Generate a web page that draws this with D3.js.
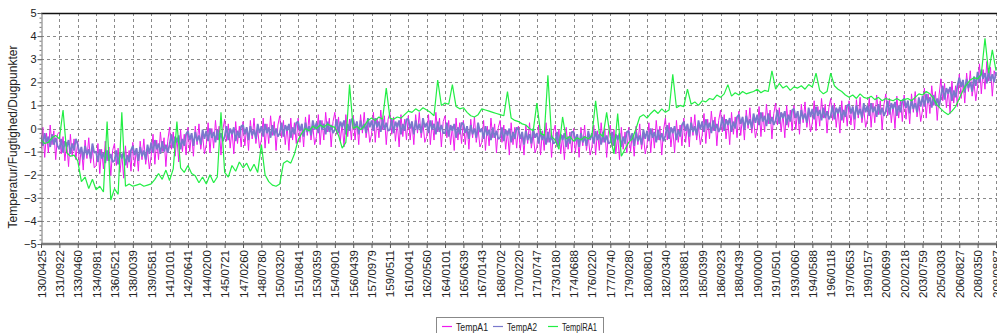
<!DOCTYPE html>
<html>
<head>
<meta charset="utf-8">
<script src="https://cdn.jsdelivr.net/npm/d3@7"></script>
<style>
  body { margin: 0; background: #fff; overflow: hidden; }
  svg text { font-family: Arial, "Liberation Sans", sans-serif; fill: #222; }
</style>
</head>
<body>
<svg id="chart" width="997" height="333"></svg>
<script>
// tick labels on the x axis (day/sample)
var tickLabels = ["130/0425","131/0922","133/0460","134/0981","136/0521","138/0039","139/0581","141/0101",
  "142/0641","144/0200","145/0721","147/0260","148/0780","150/0320","151/0841","153/0359","154/0901",
  "156/0439","157/0979","159/0511","161/0041","162/0560","164/0101","165/0639","167/0143","168/0702",
  "170/0220","171/0747","173/0180","174/0688","176/0220","177/0740","179/0280","180/0801","182/0340",
  "183/0881","185/0399","186/0923","188/0439","190/0000","191/0501","193/0060","194/0588","196/0118",
  "197/0653","199/0157","200/0699","202/0218","203/0759","205/0303","206/0827","208/0350","209/0887"];

var seriesNames = ["TempA1", "TempA2", "TemplRA1"];
var seriesColors = ["#ee1aee", "#7a78cc", "#22ee44"];
var seriesWidths = [1.0, 1.8, 1.2];
var samplesPerTick = [10, 10, 5];

// TempA1: 10 samples per tick interval
var tempA1 = [
  -0.9,0.05,-1.25,-0.2,-1.05,0.15,-0.7,-0.1,-1.35,-0.25,
  -0.15,-1.1,-0.35,-1.4,-0.6,-1.65,-0.25,-1.2,-0.45,-1.35,
  -0.55,-1.6,-0.8,-1.8,-0.5,-1.3,-0.4,-1.5,-0.9,-1.7,
  -1.6,-0.65,-1.95,-0.9,-1.75,-0.55,-1.4,-0.8,-2.05,-0.95,
  -0.65,-1.6,-0.85,-1.9,-1.1,-2.15,-0.75,-1.7,-0.95,-1.85,
  -0.6,-1.65,-0.85,-1.85,-0.55,-1.35,-0.45,-1.55,-0.95,-1.75,
  -1.2,-0.25,-1.55,-0.5,-1.35,-0.15,-1.0,-0.4,-1.65,-0.55,
  0.05,-0.9,-0.15,-1.2,-0.4,-1.45,-0.05,-1.0,-0.25,-1.15,
  0.05,-1.0,-0.2,-1.2,0.1,-0.7,0.2,-0.9,-0.3,-1.1,
  -0.7,0.25,-1.05,0.0,-0.85,0.35,-0.5,0.1,-1.15,-0.05,
  0.4,-0.55,0.2,-0.85,-0.05,-1.1,0.3,-0.65,0.1,-0.8,
  0.3,-0.75,0.05,-0.95,0.35,-0.45,0.45,-0.65,-0.05,-0.85,
  -0.5,0.45,-0.85,0.2,-0.65,0.55,-0.3,0.3,-0.95,0.15,
  0.55,-0.4,0.35,-0.7,0.1,-0.95,0.45,-0.5,0.25,-0.65,
  0.45,-0.6,0.2,-0.8,0.5,-0.3,0.6,-0.5,0.1,-0.7,
  -0.35,0.6,-0.7,0.35,-0.5,0.7,-0.15,0.45,-0.8,0.3,
  0.7,-0.25,0.5,-0.55,0.25,-0.8,0.6,-0.35,0.4,-0.5,
  0.55,-0.5,0.3,-0.7,0.6,-0.2,0.7,-0.4,0.2,-0.6,
  -0.25,0.7,-0.6,0.45,-0.4,0.8,-0.05,0.55,-0.7,0.4,
  0.7,-0.25,0.5,-0.55,0.25,-0.8,0.6,-0.35,0.4,-0.5,
  0.55,-0.5,0.3,-0.7,0.6,-0.2,0.7,-0.4,0.2,-0.6,
  -0.35,0.6,-0.7,0.35,-0.5,0.7,-0.15,0.45,-0.8,0.3,
  0.55,-0.4,0.35,-0.7,0.1,-0.95,0.45,-0.5,0.25,-0.65,
  0.35,-0.7,0.1,-0.9,0.4,-0.4,0.5,-0.6,0.0,-0.8,
  -0.6,0.35,-0.95,0.1,-0.75,0.45,-0.4,0.2,-1.05,0.05,
  0.35,-0.6,0.15,-0.9,-0.1,-1.15,0.25,-0.7,0.05,-0.85,
  0.1,-0.95,-0.15,-1.15,0.15,-0.65,0.25,-0.85,-0.25,-1.05,
  -0.8,0.15,-1.15,-0.1,-0.95,0.25,-0.6,0.0,-1.25,-0.15,
  0.15,-0.8,-0.05,-1.1,-0.3,-1.35,0.05,-0.9,-0.15,-1.05,
  0.0,-1.05,-0.25,-1.25,0.05,-0.75,0.15,-0.95,-0.35,-1.15,
  -0.8,0.15,-1.15,-0.1,-0.95,0.25,-0.6,0.0,-1.25,-0.15,
  0.15,-0.8,-0.05,-1.1,-0.3,-1.35,0.05,-0.9,-0.15,-1.05,
  0.05,-1.0,-0.2,-1.2,0.1,-0.7,0.2,-0.9,-0.3,-1.1,
  -0.7,0.25,-1.05,0.0,-0.85,0.35,-0.5,0.1,-1.15,-0.05,
  0.45,-0.5,0.25,-0.8,0.0,-1.05,0.35,-0.6,0.15,-0.75,
  0.45,-0.6,0.2,-0.8,0.5,-0.3,0.6,-0.5,0.1,-0.7,
  -0.3,0.65,-0.65,0.4,-0.45,0.75,-0.1,0.5,-0.75,0.35,
  0.8,-0.15,0.6,-0.45,0.35,-0.7,0.7,-0.25,0.5,-0.4,
  0.75,-0.3,0.5,-0.5,0.8,0.0,0.9,-0.2,0.4,-0.4,
  0.0,0.95,-0.35,0.7,-0.15,1.05,0.2,0.8,-0.45,0.65,
  1.1,0.15,0.9,-0.15,0.65,-0.4,1.0,0.05,0.8,-0.1,
  1.0,-0.05,0.75,-0.25,1.05,0.25,1.15,0.05,0.65,-0.15,
  0.25,1.2,-0.1,0.95,0.1,1.3,0.45,1.05,-0.2,0.9,
  1.3,0.35,1.1,0.05,0.85,-0.2,1.2,0.25,1.0,0.1,
  1.2,0.15,0.95,-0.05,1.25,0.45,1.35,0.25,0.85,0.05,
  0.4,1.35,0.05,1.1,0.25,1.45,0.6,1.2,-0.05,1.05,
  1.5,0.55,1.3,0.25,1.05,0.0,1.4,0.45,1.2,0.3,
  1.45,0.4,1.2,0.2,1.5,0.7,1.6,0.5,1.1,0.3,
  0.8,1.75,0.45,1.5,0.65,1.85,1.0,1.6,0.35,1.45,
  2.15,1.2,1.95,0.9,1.7,0.65,2.05,1.1,1.85,0.95,
  2.35,1.3,2.1,1.1,2.4,1.6,2.5,1.4,2.0,1.2,
  1.85,2.8,1.5,2.55,1.7,2.9,2.05,2.65,1.4,2.5,
  2.2
];

// TempA2: 10 samples per tick interval
var tempA2 = [
  -0.3,-0.75,-0.2,-0.6,-0.35,-0.8,-0.25,-0.7,-0.4,-0.75,
  -0.9,-0.45,-1.05,-0.55,-0.8,-0.5,-1.1,-0.65,-0.95,-0.45,
  -0.7,-1.1,-0.8,-1.35,-0.75,-1.15,-0.9,-1.3,-0.65,-1.05,
  -1.0,-1.45,-0.9,-1.3,-1.05,-1.5,-0.95,-1.4,-1.1,-1.45,
  -1.4,-0.95,-1.55,-1.05,-1.3,-1.0,-1.6,-1.15,-1.45,-0.95,
  -0.75,-1.15,-0.85,-1.4,-0.8,-1.2,-0.95,-1.35,-0.7,-1.1,
  -0.6,-1.05,-0.5,-0.9,-0.65,-1.1,-0.55,-1.0,-0.7,-1.05,
  -0.7,-0.25,-0.85,-0.35,-0.6,-0.3,-0.9,-0.45,-0.75,-0.25,
  -0.1,-0.5,-0.2,-0.75,-0.15,-0.55,-0.3,-0.7,-0.05,-0.45,
  -0.1,-0.55,0.0,-0.4,-0.15,-0.6,-0.05,-0.5,-0.2,-0.55,
  -0.35,0.1,-0.5,0.0,-0.25,0.05,-0.55,-0.1,-0.4,0.1,
  0.15,-0.25,0.05,-0.5,0.1,-0.3,-0.05,-0.45,0.2,-0.2,
  0.1,-0.35,0.2,-0.2,0.05,-0.4,0.15,-0.3,0.0,-0.35,
  -0.2,0.25,-0.35,0.15,-0.1,0.2,-0.4,0.05,-0.25,0.25,
  0.3,-0.1,0.2,-0.35,0.25,-0.15,0.1,-0.3,0.35,-0.05,
  0.25,-0.2,0.35,-0.05,0.2,-0.25,0.3,-0.15,0.15,-0.2,
  -0.05,0.4,-0.2,0.3,0.05,0.35,-0.25,0.2,-0.1,0.4,
  0.4,0.0,0.3,-0.25,0.35,-0.05,0.2,-0.2,0.45,0.05,
  0.35,-0.1,0.45,0.05,0.3,-0.15,0.4,-0.05,0.25,-0.1,
  -0.05,0.4,-0.2,0.3,0.05,0.35,-0.25,0.2,-0.1,0.4,
  0.4,0.0,0.3,-0.25,0.35,-0.05,0.2,-0.2,0.45,0.05,
  0.25,-0.2,0.35,-0.05,0.2,-0.25,0.3,-0.15,0.15,-0.2,
  -0.2,0.25,-0.35,0.15,-0.1,0.2,-0.4,0.05,-0.25,0.25,
  0.2,-0.2,0.1,-0.45,0.15,-0.25,0.0,-0.4,0.25,-0.15,
  0.0,-0.45,0.1,-0.3,-0.05,-0.5,0.05,-0.4,-0.1,-0.45,
  -0.4,0.05,-0.55,-0.05,-0.3,0.0,-0.6,-0.15,-0.45,0.05,
  -0.05,-0.45,-0.15,-0.7,-0.1,-0.5,-0.25,-0.65,0.0,-0.4,
  -0.2,-0.65,-0.1,-0.5,-0.25,-0.7,-0.15,-0.6,-0.3,-0.65,
  -0.6,-0.15,-0.75,-0.25,-0.5,-0.2,-0.8,-0.35,-0.65,-0.15,
  -0.15,-0.55,-0.25,-0.8,-0.2,-0.6,-0.35,-0.75,-0.1,-0.5,
  -0.2,-0.65,-0.1,-0.5,-0.25,-0.7,-0.15,-0.6,-0.3,-0.65,
  -0.6,-0.15,-0.75,-0.25,-0.5,-0.2,-0.8,-0.35,-0.65,-0.15,
  -0.1,-0.5,-0.2,-0.75,-0.15,-0.55,-0.3,-0.7,-0.05,-0.45,
  -0.1,-0.55,0.0,-0.4,-0.15,-0.6,-0.05,-0.5,-0.2,-0.55,
  -0.3,0.15,-0.45,0.05,-0.2,0.1,-0.5,-0.05,-0.35,0.15,
  0.3,-0.1,0.2,-0.35,0.25,-0.15,0.1,-0.3,0.35,-0.05,
  0.3,-0.15,0.4,0.0,0.25,-0.2,0.35,-0.1,0.2,-0.15,
  0.05,0.5,-0.1,0.4,0.15,0.45,-0.15,0.3,0.0,0.5,
  0.6,0.2,0.5,-0.05,0.55,0.15,0.4,0.0,0.65,0.25,
  0.6,0.15,0.7,0.3,0.55,0.1,0.65,0.2,0.5,0.15,
  0.35,0.8,0.2,0.7,0.45,0.75,0.15,0.6,0.3,0.8,
  0.85,0.45,0.75,0.2,0.8,0.4,0.65,0.25,0.9,0.5,
  0.85,0.4,0.95,0.55,0.8,0.35,0.9,0.45,0.75,0.4,
  0.55,1.0,0.4,0.9,0.65,0.95,0.35,0.8,0.5,1.0,
  1.05,0.65,0.95,0.4,1.0,0.6,0.85,0.45,1.1,0.7,
  1.0,0.55,1.1,0.7,0.95,0.5,1.05,0.6,0.9,0.55,
  0.75,1.2,0.6,1.1,0.85,1.15,0.55,1.0,0.7,1.2,
  1.3,0.9,1.2,0.65,1.25,0.85,1.1,0.7,1.35,0.95,
  1.4,0.95,1.5,1.1,1.35,0.9,1.45,1.0,1.3,0.95,
  1.4,1.85,1.25,1.75,1.5,1.8,1.2,1.65,1.35,1.85,
  2.2,1.8,2.1,1.55,2.15,1.75,2.0,1.6,2.25,1.85,
  2.45,2.0,2.55,2.15,2.4,1.95,2.5,2.05,2.35,2.0,
  2.45
];

// TemplRA1: 5 samples per tick interval
var tempIRA1 = [
  -0.5,-0.65,-0.6,-0.4,-0.3, -0.45,0.8,-1.05,-1.2,-1.15, -1.4,-2.3,-2.1,-2.6,-2.2,
  -2.65,-2.5,-2.75,0.3,-3.1, -2.6,-2.85,0.7,-2.5,-2.4, -2.5,-2.45,-2.4,-2.5,-2.45,
  -2.4,-2.2,-1.95,-2.2,-1.8, -2.25,-1.75,0.3,-1.7,-1.9, -1.6,-1.95,-2.05,-2.35,-2.1,
  -2.4,-2.0,-2.35,-2.1,0.7, -1.9,-2.1,-1.6,-1.85,-1.45, -1.7,-1.5,-1.85,-1.55,-1.9,
  -0.7,-2.0,-2.3,-2.45,-2.5, -2.4,-1.5,-1.4,-1.5,-1.1, -0.5,-0.2,0.0,-0.1,0.1,
  0.0,0.15,0.05,0.2,0.1, 0.05,-0.3,-0.85,-0.6,1.9, 0.0,0.1,-0.05,0.1,0.35,
  0.45,0.35,0.5,0.4,1.75, 0.45,0.4,0.5,0.45,0.6, 0.75,0.7,0.85,0.75,0.9,
  0.8,0.7,0.55,2.1,1.0, 1.1,1.05,1.9,0.95,0.85, 0.9,0.7,0.55,0.5,0.6,
  0.85,0.8,0.75,0.7,0.65, 0.6,0.55,1.6,0.45,0.35, 0.3,0.2,0.15,0.0,-0.1,
  1.1,-0.2,-0.3,2.3,-0.35, -0.5,-0.9,0.5,-0.45,-0.35, -0.55,-0.4,-0.5,-0.35,-0.45,
  -0.3,1.2,-0.2,-0.35,0.7, -0.4,-1.1,0.65,-1.2,-0.9, -0.6,-0.45,0.0,0.5,0.6,
  0.45,0.65,0.8,0.65,0.85, 0.7,0.8,2.35,0.9,1.0, 0.95,1.7,1.05,1.15,1.0,
  1.2,1.15,1.3,1.25,1.45, 1.35,1.5,1.9,1.4,1.55, 1.45,1.6,1.5,1.55,1.6,
  1.7,1.55,1.65,1.6,2.5, 1.7,1.95,1.75,1.85,1.65, 1.8,1.75,1.85,1.7,1.9,
  1.8,2.4,1.65,1.5,1.6, 2.4,1.85,1.7,1.6,1.45, 1.35,1.45,1.3,1.5,1.35,
  1.3,1.4,1.25,1.35,1.2, 1.3,1.25,1.2,1.3,1.2, 1.25,1.3,1.2,1.35,1.5,
  1.45,1.6,1.5,1.3,1.0, 0.85,0.7,0.6,0.75,0.95, 1.3,1.65,1.9,2.1,2.2,
  2.15,2.35,3.9,2.4,3.4, 2.5
];

var yTicks = [-5, -4, -3, -2, -1, 0, 1, 2, 3, 4, 5];

var svg = d3.select("#chart");
var plotLeft = 41, plotRight = 997, plotTop = 13, plotBottom = 244;
var lastTick = tickLabels.length - 1;

var x = d3.scaleLinear().domain([0, lastTick]).range([plotLeft, 996]);
var y = d3.scaleLinear().domain([-5, 5]).range([plotBottom, plotTop]);

// grid
var grid = svg.append("g").attr("stroke", "#8a8a8a").attr("stroke-dasharray", "3,3").attr("stroke-width", 1);
grid.selectAll("line.h").data(yTicks.filter(function(d){ return d > -5 && d < 5; }))
  .enter().append("line")
  .attr("x1", plotLeft).attr("x2", plotRight)
  .attr("y1", function(d){ return Math.round(y(d)) + 0.5; })
  .attr("y2", function(d){ return Math.round(y(d)) + 0.5; });
grid.selectAll("line.v").data(d3.range(1, lastTick + 1))
  .enter().append("line")
  .attr("y1", plotTop).attr("y2", plotBottom)
  .attr("x1", function(d){ return Math.round(x(d)) + 0.5; })
  .attr("x2", function(d){ return Math.round(x(d)) + 0.5; });

// lines
svg.append("clipPath").attr("id", "clip").append("rect")
  .attr("x", plotLeft).attr("y", plotTop).attr("width", plotRight - plotLeft).attr("height", plotBottom - plotTop);

var plot = svg.append("g").attr("clip-path", "url(#clip)");
[tempA1, tempA2, tempIRA1].forEach(function(s, k){
  var line = d3.line()
    .x(function(d, i){ return x(i / samplesPerTick[k]); })
    .y(function(d){ return y(d); });
  plot.append("path")
    .datum(s)
    .attr("fill", "none")
    .attr("stroke", seriesColors[k])
    .attr("stroke-width", seriesWidths[k])
    .attr("stroke-linejoin", "bevel")
    .attr("d", line);
});

// top frame
svg.append("line").attr("x1", plotLeft).attr("x2", plotRight).attr("y1", plotTop + 0.5).attr("y2", plotTop + 0.5)
  .attr("stroke", "#111").attr("stroke-width", 1.5);

// y axis
var yAxis = svg.append("g").attr("transform", "translate(" + (plotLeft + 0.5) + ",0)")
  .call(d3.axisLeft(y).tickValues(yTicks).tickSize(4).tickSizeOuter(0).tickFormat(d3.format("d")));
yAxis.select(".domain").attr("stroke", "#777");
yAxis.selectAll(".tick line").attr("stroke", "#555");
yAxis.selectAll("text").style("font-size", "11px").attr("x", -5);

svg.append("g").attr("transform", "translate(" + (plotLeft + 0.5) + ",0)")
  .call(d3.axisLeft(y).tickValues(d3.range(-50, 51, 2).map(function(d){ return d / 10; }))
    .tickSize(2).tickSizeOuter(0).tickFormat(""))
  .call(function(g){ g.select(".domain").remove(); g.selectAll("line").attr("stroke", "#777"); });

// x axis
var xAxis = svg.append("g").attr("transform", "translate(0," + plotBottom + ")")
  .call(d3.axisBottom(x).tickValues(d3.range(0, lastTick + 1))
    .tickFormat(function(i){ return tickLabels[i]; }).tickSize(4).tickSizeOuter(0));
xAxis.select(".domain").attr("stroke", "#7a7a7a").attr("stroke-width", 2.5)
  .attr("d", "M" + plotLeft + ",0H" + plotRight);
xAxis.selectAll(".tick line").attr("stroke", "#555");
xAxis.selectAll("text")
  .style("font-size", "11.5px")
  .attr("text-anchor", "end")
  .attr("transform", "rotate(-90)")
  .attr("x", -6).attr("y", 0).attr("dy", "0.35em");

// y title
svg.append("text")
  .attr("transform", "translate(17,137) rotate(-90)")
  .attr("text-anchor", "middle")
  .style("font-size", "12px")
  .text("Temperatur/Fugtighed/Dugpunkter");

// legend
var legend = svg.append("g").attr("transform", "translate(436,317)");
legend.append("rect").attr("x", 0.5).attr("y", 0.5).attr("width", 167).attr("height", 22)
  .attr("fill", "#fff").attr("stroke", "#888");
var legendX = [6, 57, 112];
var legendW = [32, 30, 35];
seriesNames.forEach(function(n, i){
  legend.append("line").attr("x1", legendX[i]).attr("x2", legendX[i] + 10)
    .attr("y1", 9.5).attr("y2", 9.5).attr("stroke", seriesColors[i]).attr("stroke-width", 1.2);
  legend.append("text").attr("x", legendX[i] + 14).attr("y", 14)
    .attr("textLength", legendW[i]).attr("lengthAdjust", "spacingAndGlyphs")
    .style("font-size", "11.5px").text(n);
});
</script>
</body>
</html>
